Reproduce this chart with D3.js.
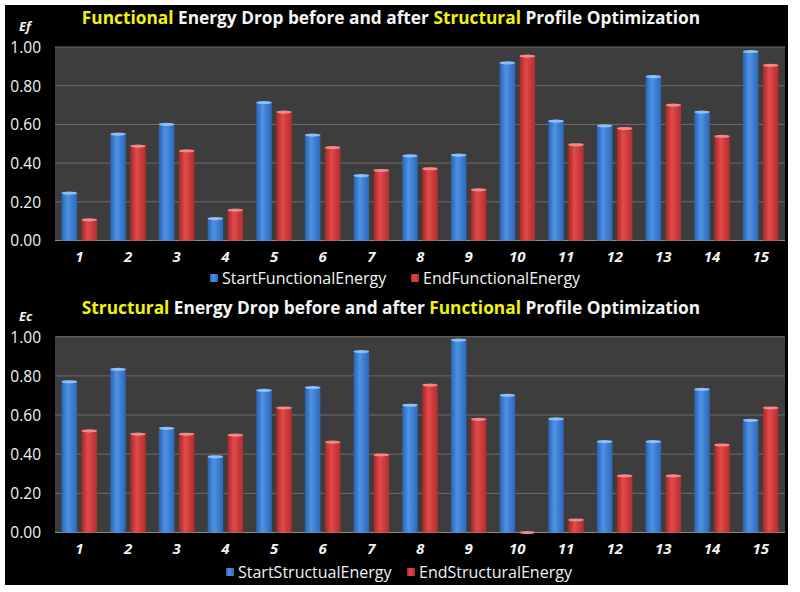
<!DOCTYPE html>
<html><head><meta charset="utf-8">
<script src="https://cdn.jsdelivr.net/npm/d3@7"></script>
<style>body{margin:0;background:#fff;}svg{display:block;}</style>
</head><body>
<svg id="chart" width="800" height="592"></svg>
<script>
const categories = ["1","2","3","4","5","6","7","8","9","10","11","12","13","14","15"];
const startFunctionalEnergy = [0.25,0.555,0.605,0.118,0.718,0.55,0.34,0.443,0.446,0.923,0.622,0.598,0.852,0.669,0.981];
const endFunctionalEnergy   = [0.112,0.493,0.468,0.162,0.669,0.485,0.367,0.376,0.267,0.958,0.5,0.584,0.705,0.543,0.91];
const startStructualEnergy  = [0.775,0.838,0.537,0.392,0.731,0.745,0.929,0.655,0.988,0.706,0.585,0.469,0.469,0.736,0.578];
const endStructuralEnergy   = [0.524,0.508,0.507,0.502,0.641,0.467,0.401,0.758,0.583,0.005,0.069,0.294,0.294,0.452,0.641];
const yTicks = [0,0.2,0.4,0.6,0.8,1.0];

const svg = d3.select("#chart");
const defs = svg.append("defs");
function grad(id, c0, c1, c2) {
  const g = defs.append("linearGradient").attr("id", id).attr("x1","0").attr("x2","1").attr("y1","0").attr("y2","0");
  g.append("stop").attr("offset","0").attr("stop-color",c0);
  g.append("stop").attr("offset","0.4").attr("stop-color",c1);
  g.append("stop").attr("offset","1").attr("stop-color",c2);
}
grad("gBlue", "#2a62b0", "#4d93e6", "#2c66b8");
grad("gRed", "#a82626", "#e24a4a", "#b42c2c");

svg.append("rect").attr("x",5).attr("y",5).attr("width",783).attr("height",580).attr("fill","#000");

function drawChart(cfg) {
  const g = svg.append("g");
  const x = d3.scaleBand().domain(categories).range([55,785]).padding(0);
  const xs = d3.scaleBand().domain(["s","e"]).range([0, x.bandwidth()]).paddingInner(0.225).paddingOuter(0.33);
  const y = d3.scaleLinear().domain([0,1]).range([cfg.y0, cfg.y1]);

  g.append("rect").attr("x",55).attr("y",cfg.y1).attr("width",730).attr("height",cfg.y0-cfg.y1).attr("fill","#3d3d3d");
  g.selectAll("line.grid").data(yTicks).join("line").attr("class","grid")
    .attr("x1",55).attr("x2",785).attr("y1",d=>y(d)).attr("y2",d=>y(d))
    .attr("stroke", d=> d===0 ? "#8a8a8a" : "#6e6e6e").attr("stroke-width",1);

  const ya = d3.axisLeft(y).tickValues(yTicks).tickFormat(d3.format(".2f")).tickSize(0).tickPadding(0);
  const yg = g.append("g").attr("transform","translate(41,0)").call(ya);
  yg.select(".domain").remove();
  yg.selectAll("text").attr("fill","#f2f2f2").style("font-family","Open Sans").style("font-size","15.5px").attr("dy","0.35em");

  const xa = d3.axisBottom(x).tickSize(0).tickPadding(0);
  const xg = g.append("g").attr("transform",`translate(0,${cfg.y0+11})`).call(xa);
  xg.select(".domain").remove();
  xg.selectAll("text").attr("fill","#f2f2f2").style("font-family","Open Sans").style("font-size","15px")
    .style("font-weight","bold").style("font-style","italic").attr("dy","0.71em");

  const series = [{key:"s", vals:cfg.a, fill:"url(#gBlue)", cap:"#8cc0f5"},{key:"e", vals:cfg.b, fill:"url(#gRed)", cap:"#f08a8a"}];
  series.forEach(s => {
    const bars = g.append("g");
    bars.selectAll("rect").data(categories).join("rect")
      .attr("x", (c)=> x(c)+xs(s.key)).attr("width", xs.bandwidth())
      .attr("y", (c,i)=> y(s.vals[i])).attr("height", (c,i)=> cfg.y0 - y(s.vals[i]))
      .attr("fill", s.fill);
    bars.selectAll("ellipse").data(categories).join("ellipse")
      .attr("cx", (c)=> x(c)+xs(s.key)+xs.bandwidth()/2).attr("cy",(c,i)=> y(s.vals[i])+1)
      .attr("rx", xs.bandwidth()/2).attr("ry",1.6).attr("fill", s.cap);
  });

  const t = g.append("text").attr("x",391).attr("y",cfg.ty).attr("text-anchor","middle")
    .style("font-family","Open Sans").style("font-weight","bold").style("font-size","17.3px").attr("fill","#f4f4f4");
  cfg.title.forEach(p => t.append("tspan").text(p[0]).attr("fill", p[1] ? "#f2f20a" : "#f4f4f4"));

  g.append("text").attr("x",19).attr("y",cfg.ty+7).text(cfg.ylab).attr("fill","#f2f2f2")
    .style("font-family","Open Sans").style("font-weight","bold").style("font-style","italic").style("font-size","13px");

  const lg = g.append("g");
  cfg.legend.forEach((l,i) => {
    lg.append("rect").attr("x",l.x).attr("y",cfg.ly-4).attr("width",8).attr("height",8)
      .attr("fill", i===0 ? "url(#gBlue)" : "url(#gRed)");
    lg.append("text").attr("x",l.x+12).attr("y",cfg.ly).attr("dy","0.35em").text(l.text)
      .attr("fill","#f2f2f2").style("font-family","Open Sans").style("font-size","16px");
  });
}

drawChart({y0:240.5, y1:47, a:startFunctionalEnergy, b:endFunctionalEnergy, ty:23.5, ylab:"Ef", ly:278,
  title:[["Functional",true],[" Energy Drop before and after ",false],["Structural",true],[" Profile Optimization",false]],
  legend:[{x:210,text:"StartFunctionalEnergy"},{x:411,text:"EndFunctionalEnergy"}]});
drawChart({y0:532.5, y1:336.7, a:startStructualEnergy, b:endStructuralEnergy, ty:313.5, ylab:"Ec", ly:572,
  title:[["Structural",true],[" Energy Drop before and after ",false],["Functional",true],[" Profile Optimization",false]],
  legend:[{x:226,text:"StartStructualEnergy"},{x:407,text:"EndStructuralEnergy"}]});
</script>
</body></html>
